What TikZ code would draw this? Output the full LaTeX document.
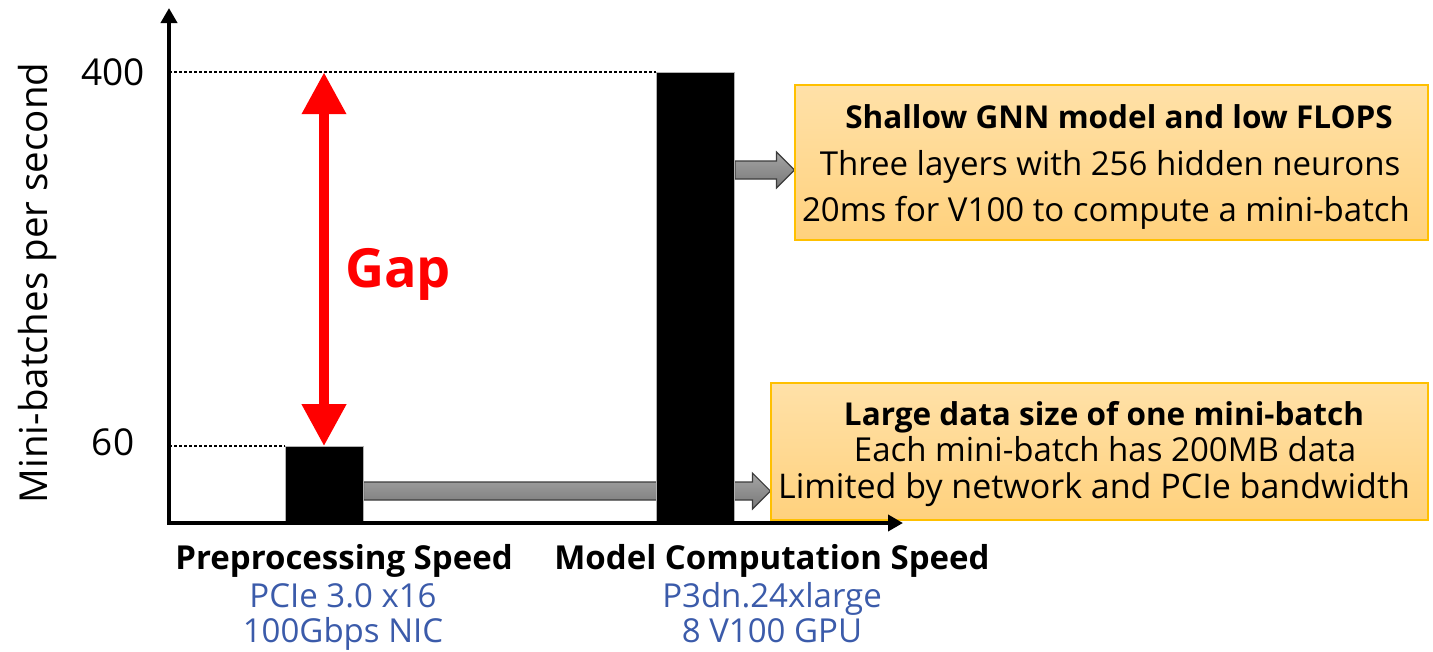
\documentclass[tikz,border=0pt]{standalone}
\usepackage{fontspec}
\setmainfont{Open Sans}
\usetikzlibrary{arrows.meta,calc,backgrounds}
\definecolor{labelblue}{RGB}{59,91,170}
\definecolor{boxtop}{RGB}{255,225,168}
\definecolor{boxbot}{RGB}{255,209,125}
\definecolor{boxline}{RGB}{255,192,0}
\definecolor{arrowtop}{RGB}{165,165,165}
\definecolor{arrowbot}{RGB}{120,120,120}
\definecolor{arrowline}{RGB}{60,60,60}
\definecolor{gapred}{RGB}{255,0,0}
\begin{document}
\begin{tikzpicture}[x=1pt,y=-1pt,
  axis/.style={line width=4pt, -{Triangle[length=15pt,width=16pt]}},
  bar/.style={fill=black, draw=gray!60, line width=0.8pt, inner sep=0pt, minimum width=78pt},
  level/.style={line width=1.8pt, dash pattern=on 2.5pt off 2.5pt},
  gaparrow/.style={gapred, line width=10pt, {Triangle[length=42pt,width=42pt]}-{Triangle[length=42pt,width=42pt]}},
  blockarrow/.style={draw=arrowline, line width=1.2pt, top color=arrowtop, bottom color=arrowbot, line join=miter},
  infobox/.style={draw=boxline, line width=1.2pt, top color=boxtop, bottom color=boxbot, inner sep=0pt},
  txt/.style={anchor=base, inner sep=0pt},
  headline/.style={txt, font=\fontsize{31.5}{36}\selectfont\bfseries},
  bodyline/.style={txt, font=\fontsize{33}{36}\selectfont},
  capline/.style={txt, font=\fontsize{33}{36}\selectfont},
  subline/.style={capline, text=labelblue},
  ticklabel/.style={txt, font=\fontsize{37}{40}\selectfont}
]
\useasboundingbox (0,0) rectangle (1433,651);

% axes origin and ends
\coordinate (O) at (169,523);
\coordinate (ytop) at (169,8);
\coordinate (xend) at (903,523);

% bars
\node[bar, minimum height=75pt, anchor=south] (b1) at (324,522) {};
\node[bar, minimum height=449pt, anchor=south] (b2) at (695.5,522) {};

% explanation boxes
\node[infobox, minimum width=633pt, minimum height=155pt] (box1) at (1111.5,162.5) {};
\node[headline] (box1a) at (1119,128) {Shallow GNN model and low FLOPS};
\node[bodyline] (box1b) at (1110,175) {Three layers with 256 hidden neurons};
\node[bodyline] (box1c) at (1106,221) {20ms for V100 to compute a mini-batch};

\node[infobox, minimum width=657pt, minimum height=137pt] (box2) at (1099.5,451.5) {};
\node[headline] (box2a) at (1104,425) {Large data size of one mini-batch};
\node[bodyline] (box2b) at (1105,461) {Each mini-batch has 200MB data};
\node[bodyline, font=\fontsize{34}{36}\selectfont] (box2c) at (1094,498) {Limited by network and PCIe bandwidth};

% block arrows from the bars to the boxes (behind the bars)
\coordinate (t1) at (b1.east |- 0,491);
\coordinate (t2) at (b2.east |- 0,170);
\begin{pgfonlayer}{background}
\path[blockarrow] let \p1=(t1), \p2=(box2.west) in
  (\x1,\y1-9pt) -- (\x2-18pt,\y1-9pt) -- (\x2-18pt,\y1-18pt) -- (\x2,\y1)
  -- (\x2-18pt,\y1+18pt) -- (\x2-18pt,\y1+9pt) -- (\x1,\y1+9pt) -- cycle;
\path[blockarrow] let \p1=(t2), \p2=(box1.west) in
  (\x1,\y1-9pt) -- (\x2-18pt,\y1-9pt) -- (\x2-18pt,\y1-18pt) -- (\x2,\y1)
  -- (\x2-18pt,\y1+18pt) -- (\x2-18pt,\y1+9pt) -- (\x1,\y1+9pt) -- cycle;
\end{pgfonlayer}

% dotted level lines
\draw[level] (O |- b2.north west) -- (b2.north west);
\draw[level] (O |- b1.north west) -- (b1.north west);

% axes
\draw[axis] (O) -- (ytop);
\draw[axis] ($(O)+(-2,0)$) -- (xend);

% gap arrow
\coordinate (g400) at (b1.north |- b2.north);
\draw[gaparrow] (g400) -- (b1.north);
\node[text=gapred, font=\fontsize{54}{58}\selectfont\bfseries] (gap) at (398,274) {Gap};

% axis labels
\node[ticklabel] (t400) at (113,85) {400};
\node[ticklabel] (t60) at (113,455) {60};
\node[font=\fontsize{38.5}{40}\selectfont, rotate=90] (ylab) at (37,283) {Mini-batches per second};

% category captions
\node[capline, font=\fontsize{33}{36}\selectfont\bfseries] (c1a) at (344,569) {Preprocessing Speed};
\node[subline] (c1b) at (343,607) {PCIe 3.0 x16};
\node[subline] (c1c) at (343,642) {100Gbps NIC};
\node[capline, font=\fontsize{33}{36}\selectfont\bfseries] (c2a) at (772,569) {Model Computation Speed};
\node[subline] (c2b) at (772,607) {P3dn.24xlarge};
\node[subline] (c2c) at (772,642) {8 V100 GPU};
\end{tikzpicture}
\end{document}
